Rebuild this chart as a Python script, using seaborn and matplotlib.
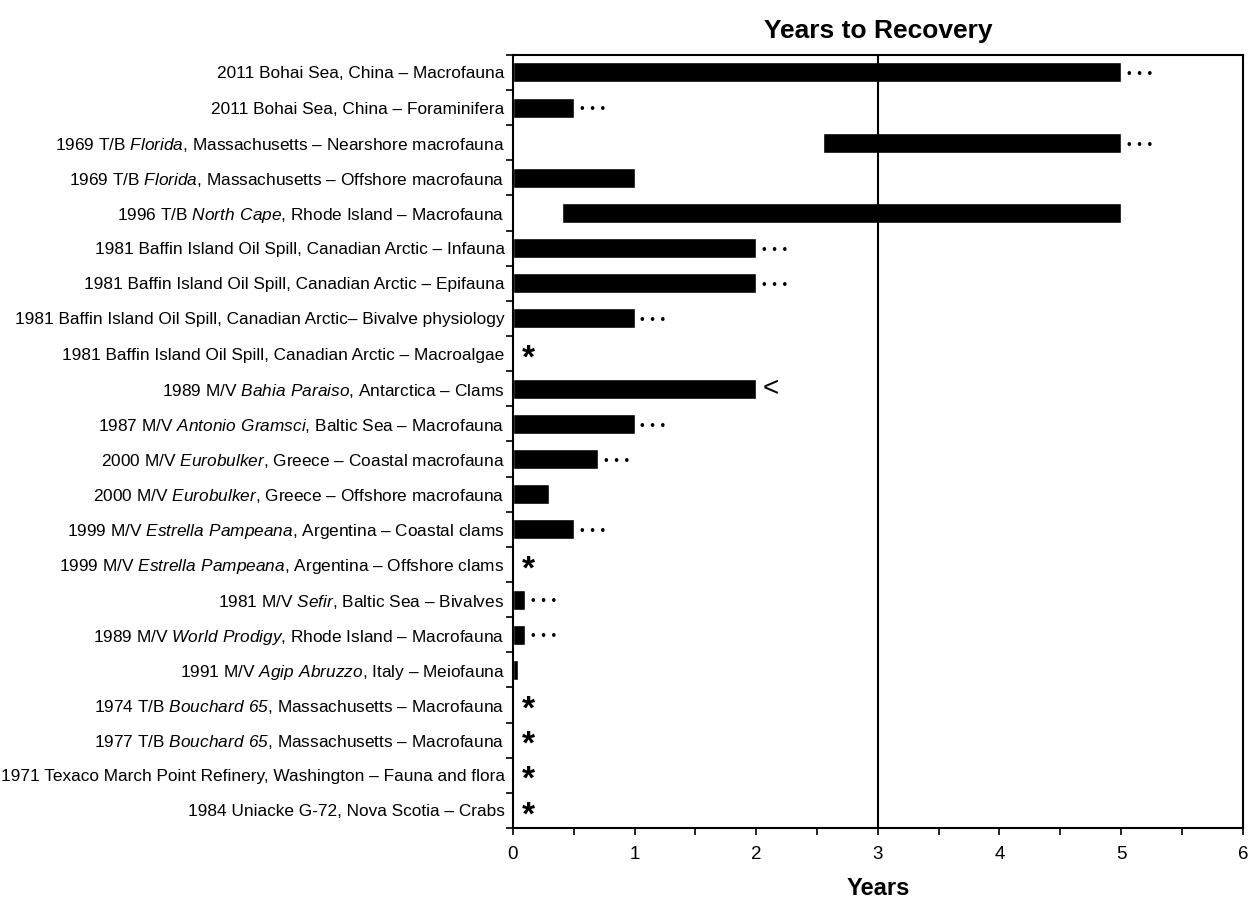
import numpy as np
import pandas as pd
import seaborn as sns
import matplotlib.pyplot as plt
from matplotlib.ticker import MultipleLocator, FixedLocator, NullFormatter

sns.set_style('ticks')
plt.rcParams['font.family'] = ['Liberation Sans', 'DejaVu Sans']
plt.rcParams['mathtext.fontset'] = 'custom'
plt.rcParams['mathtext.rm'] = 'Liberation Sans'
# italic vessel names go through \mathsf so digits stay italic too
plt.rcParams['mathtext.sf'] = 'Liberation Sans:italic'
for k in ['text.color', 'axes.labelcolor', 'xtick.color', 'ytick.color', 'axes.edgecolor']:
    plt.rcParams[k] = 'black'

# Study labels (italic vessel names via mathtext)
labels = [
    '2011 Bohai Sea, China – Macrofauna',
    '2011 Bohai Sea, China – Foraminifera',
    '1969 T/B $\\mathsf{Florida}$, Massachusetts – Nearshore macrofauna',
    '1969 T/B $\\mathsf{Florida}$, Massachusetts – Offshore macrofauna',
    '1996 T/B $\\mathsf{North\\ Cape}$, Rhode Island – Macrofauna',
    '1981 Baffin Island Oil Spill, Canadian Arctic – Infauna',
    '1981 Baffin Island Oil Spill, Canadian Arctic – Epifauna',
    '1981 Baffin Island Oil Spill, Canadian Arctic– Bivalve physiology',
    '1981 Baffin Island Oil Spill, Canadian Arctic – Macroalgae',
    '1989 M/V $\\mathsf{Bahia\\ Paraiso}$, Antarctica – Clams',
    '1987 M/V $\\mathsf{Antonio\\ Gramsci}$, Baltic Sea – Macrofauna',
    '2000 M/V $\\mathsf{Eurobulker}$, Greece – Coastal macrofauna',
    '2000 M/V $\\mathsf{Eurobulker}$, Greece – Offshore macrofauna',
    '1999 M/V $\\mathsf{Estrella\\ Pampeana}$, Argentina – Coastal clams',
    '1999 M/V $\\mathsf{Estrella\\ Pampeana}$, Argentina – Offshore clams',
    '1981 M/V $\\mathsf{Sefir}$, Baltic Sea – Bivalves',
    '1989 M/V $\\mathsf{World\\ Prodigy}$, Rhode Island – Macrofauna',
    '1991 M/V $\\mathsf{Agip\\ Abruzzo}$, Italy – Meiofauna',
    '1974 T/B $\\mathsf{Bouchard\\ 65}$, Massachusetts – Macrofauna',
    '1977 T/B $\\mathsf{Bouchard\\ 65}$, Massachusetts – Macrofauna',
    '1971 Texaco March Point Refinery, Washington – Fauna and flora',
    '1984 Uniacke G-72, Nova Scotia – Crabs',
]
# years to recovery: bar start and end
start = [0, 0, 2.55, 0, 0.4, 0, 0, 0, 0, 0, 0, 0, 0, 0, 0, 0, 0, 0, 0, 0, 0, 0]
end = [5, 0.5, 5, 1, 5, 2, 2, 1, 0, 2, 1, 0.7, 0.3, 0.5, 0, 0.1, 0.1, 0.04, 0, 0, 0, 0]
# annotation after bar: 'dots' = not yet recovered, 'star' = no effect, 'lt' = less than
notes = ['dots', 'dots', 'dots', '', '', 'dots', 'dots', 'dots', 'star', 'lt', 'dots', 'dots', '',
         'dots', 'star', 'dots', 'dots', '', 'star', 'star', 'star', 'star']

df = pd.DataFrame({'label': labels, 'start': start, 'end': end, 'note': notes})
df['row'] = np.arange(len(df))

fig = plt.figure(figsize=(12.49, 9), dpi=100)
ax = fig.add_axes([0.4107, 0.08, 0.5843, 0.859])

sns.barplot(data=df, x='end', y='label', orient='h', color='black', width=0.57,
            saturation=1, ax=ax)
# mask the years before recovery started for bars that do not start at zero
mask = df[df['start'] > 0]
ax.barh(mask['row'], mask['start'], height=0.6, color='white', zorder=2)

ax.axvline(3, color='black', lw=1.5, zorder=3)

for _, r in df.iterrows():
    if r['note'] == 'dots':
        ax.text(r['end'] + 0.04, r['row'] + 0.05, '• • •', fontsize=7.5, fontweight='bold',
                va='center', ha='left', family='DejaVu Sans')
    elif r['note'] == 'star':
        ax.text(0.13, r['row'] + 0.15, '*', fontsize=24, fontweight='bold', va='center',
                ha='center', family='Liberation Sans')
    elif r['note'] == 'lt':
        ax.text(r['end'] + 0.05, r['row'], '<', fontsize=20, va='center', ha='left',
                family='Liberation Sans')

ax.set_xlim(0, 6)
ax.set_ylim(len(df) - 0.5, -0.5)
ax.xaxis.set_major_locator(MultipleLocator(1))
ax.xaxis.set_minor_locator(MultipleLocator(0.5))
ax.tick_params(axis='x', which='both', direction='out', length=5, width=1.2,
               labelsize=13.5, pad=8)
ax.tick_params(axis='y', which='major', length=0, labelsize=12.4, pad=6)
ax.yaxis.set_minor_locator(FixedLocator(np.arange(-0.5, len(df), 1)))
ax.yaxis.set_minor_formatter(NullFormatter())
ax.tick_params(axis='y', which='minor', direction='out', length=5, width=1.2)

for s in ax.spines.values():
    s.set_visible(True)
    s.set_linewidth(1.5)

ax.set_ylabel('')
ax.set_xlabel('Years', fontsize=17, fontweight='bold', labelpad=10)
ax.set_title('Years to Recovery', fontsize=19, fontweight='bold', pad=12)

fig.savefig('out.png', dpi=100)
